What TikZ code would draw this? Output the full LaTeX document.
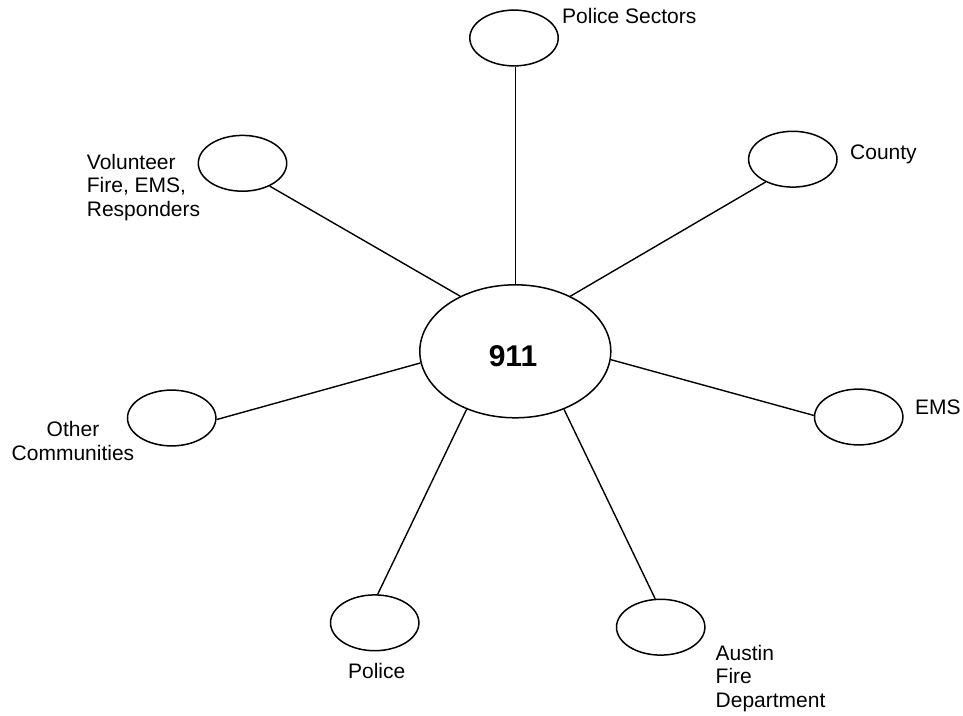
\documentclass[tikz,border=0pt]{standalone}
\usepackage{fontspec}
\setmainfont{Liberation Sans}
\usetikzlibrary{shapes.geometric}
\begin{document}
\begin{tikzpicture}[x=1pt,y=-1pt,
  hub/.style={ellipse,draw,line width=1.5pt,minimum width=191pt,minimum height=133pt,inner sep=0pt},
  spoke/.style={ellipse,draw,line width=1.5pt,minimum width=88.4pt,minimum height=55.8pt,inner sep=0pt},
  link/.style={line width=1.4pt},
  lbl/.style={inner sep=0pt,font=\fontsize{21}{23.3}\selectfont}]
\useasboundingbox (0,0) rectangle (963,715);

% central dispatch ellipse
\node[hub] (c) at (515.3,351.3) {};
\node[anchor=base,inner sep=0pt,font=\fontsize{30}{36}\selectfont\bfseries] (t911) at (513,366.7) {911};

% surrounding agencies
\node[spoke] (ps)  at (514,38)      {};
\node[spoke] (vol) at (242.5,163.3) {};
\node[spoke] (cty) at (792.8,159.2) {};
\node[spoke] (oth) at (171.7,418)   {};
\node[spoke] (ems) at (858.7,417)   {};
\node[spoke] (pol) at (374.7,622.8) {};
\node[spoke] (afd) at (660.7,627.2) {};

% connections to the hub
\draw[link] (c.north) -- (c.north |- ps.south);
\draw[link] (vol.-40.4) -- (c.135.5);
\draw[link] (cty.220.2) -- (c.45.5);
\draw[link] (oth.-2) -- (c.187.9);
\draw[link] (c.-5.6) -- (ems.178.7);
\draw[link] (c.230.7) -- (pol.84.7);
\draw[link] (c.-50.6) -- (afd.101.2);

% labels
\node[lbl,anchor=north west] (lps) at (562,8.3) {Police Sectors};
\node[lbl,anchor=north west] (lcty) at (850,145) {County};
\node[lbl,anchor=north west,align=left] (lvol) at (86.7,154) {Volunteer\\Fire, EMS,\\Responders};
\node[lbl,anchor=north,align=center] (loth) at (73,421.5) {Other\\Communities};
\node[lbl,anchor=north west] (lems) at (915,400) {EMS};
\node[lbl,anchor=north] (lpol) at (376.7,663.3) {Police};
\node[lbl,anchor=north west,align=left] (lafd) at (715.5,645) {Austin\\Fire\\Department};
\end{tikzpicture}
\end{document}
